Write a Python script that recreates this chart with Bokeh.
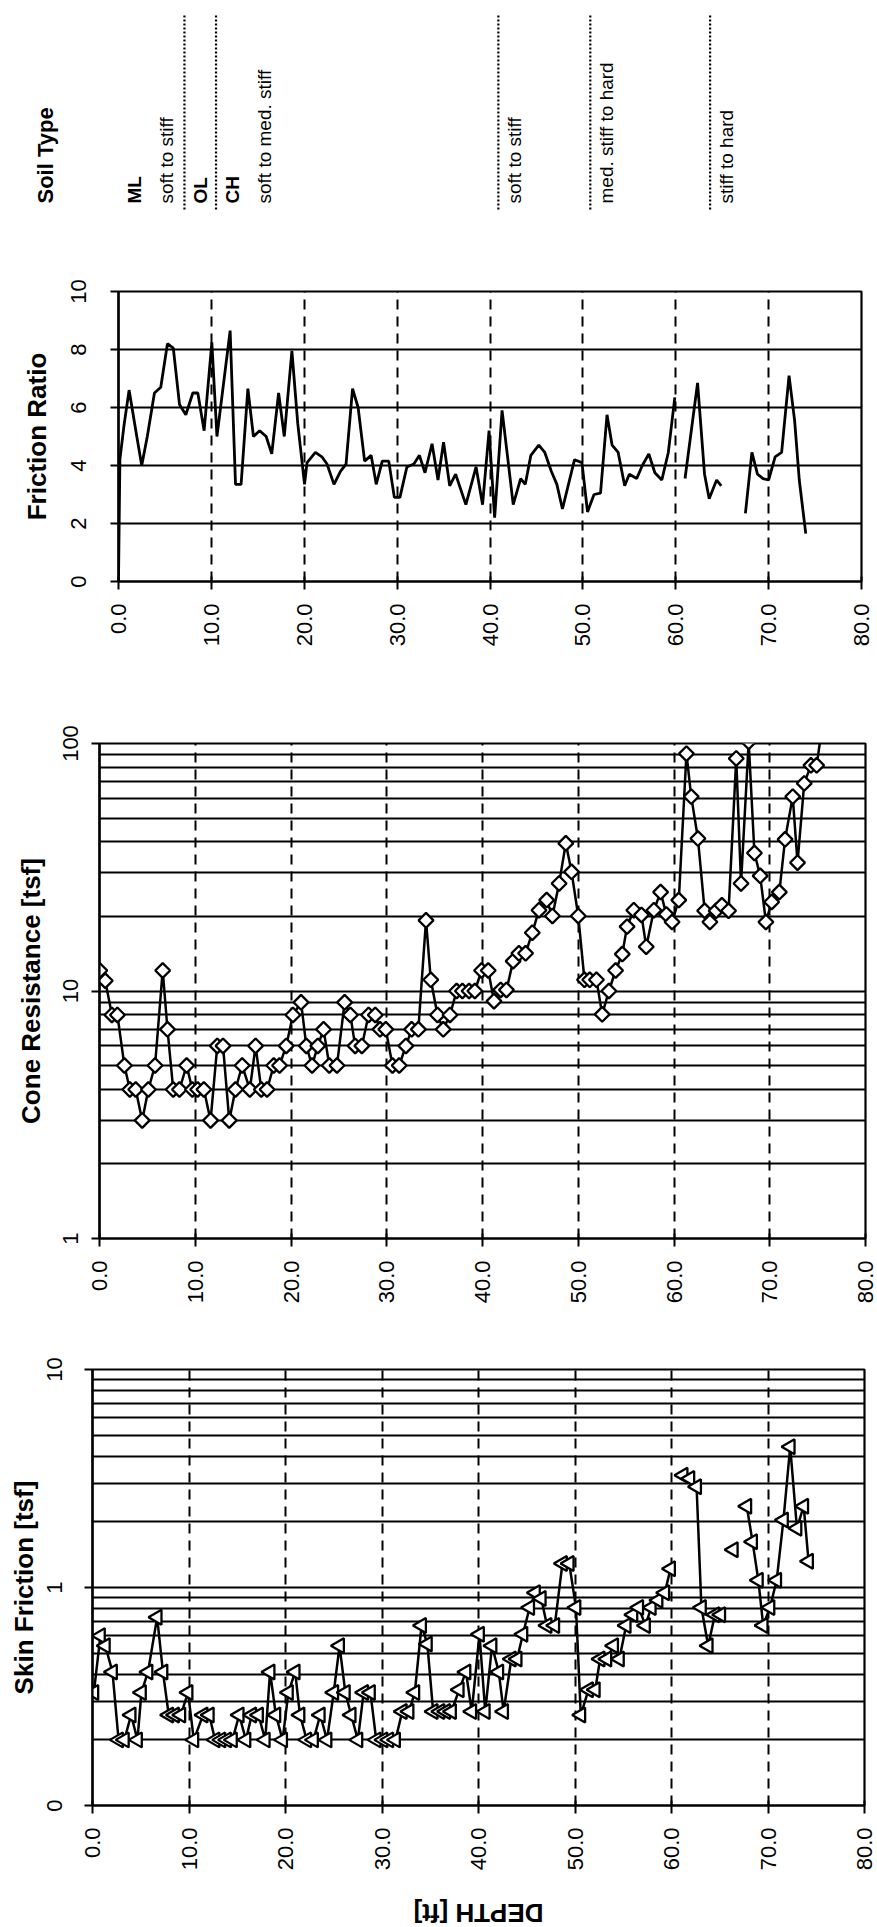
import math
import numpy as np
from bokeh.plotting import figure
from bokeh.layouts import column
from bokeh.models import Range1d, FixedTicker, PrintfTickFormatter, ColumnDataSource
from bokeh.core.properties import value
from bokeh.embed import file_html
from bokeh.resources import INLINE

NAN = float("nan")
FONT = "Liberation Sans"

# ---------------- data ----------------
# Friction ratio [%] against depth [ft]; NaN marks missing readings
fr_depth = [0.0, 0.15, 0.6, 1.14, 1.97, 2.5, 3.1, 3.87, 4.55, 5.27, 5.9, 6.57, 7.25, 8.0, 8.54,
            9.22, 10.05, 10.6, 12.02, 12.6, 13.2, 13.93, 14.53, 15.2, 15.9, 16.5, 17.24, 17.85,
            18.67, 19.3, 20.03, 20.3, 21.2, 21.9, 22.45, 23.2, 23.9, 24.5, 25.2, 25.8, 26.5,
            27.2, 27.75, 28.4, 29.1, 29.7, 30.3, 31.05, 31.8, 32.4, 33.0, 33.76, 34.4, 35.0,
            35.66, 36.3, 37.4, 38.5, 39.2, 39.9, 40.5, 41.3, 42.5, 43.3, 43.8, 44.4, 45.25,
            45.9, 46.6, 47.2, 47.8, 49.1, 49.9, 50.5, 51.2, 51.9, 52.6, 53.15, 53.8, 54.5,
            55.0, 55.8, 56.4, 57.1, 57.75, 58.5, 59.2, 59.9, 60.5, 61.0, 62.35, 63.1, 63.6,
            64.4, 64.9, 66.4, 67.5, 68.2, 68.8, 69.4, 70.0, 70.7, 71.4, 72.2, 72.8, 73.3, 74.0]
fr_value = [0.0, 4.2, 5.4, 6.6, 5.0, 4.0, 5.0, 6.5, 6.7, 8.2, 8.05, 6.1, 5.75, 6.5, 6.5,
            5.2, 8.25, 5.0, 8.65, 3.35, 3.35, 6.65, 5.0, 5.2, 5.0, 4.4, 6.5, 5.0,
            7.95, 5.45, 3.35, 4.1, 4.45, 4.3, 4.05, 3.35, 3.8, 4.05, 6.65, 6.0, 4.15,
            4.35, 3.35, 4.15, 4.15, 2.9, 2.9, 3.95, 4.05, 4.35, 3.75, 4.75, 3.5, 4.8,
            3.3, 3.7, 2.65, 3.95, 2.65, 5.2, 2.2, 5.9, 2.65, 3.55, 3.35, 4.35, 4.7,
            4.45, 3.8, 3.35, 2.5, 4.2, 4.1, 2.4, 3.0, 3.05, 5.75, 4.7, 4.45, 3.3,
            3.7, 3.55, 4.0, 4.4, 3.75, 3.5, 4.45, 6.35, NAN, 3.55, 6.85, 3.7, 2.85,
            3.5, 3.3, NAN, 2.35, 4.45, 3.7, 3.55, 3.5, 4.3, 4.45, 7.1, 5.55, 3.5, 1.65]

# Cone resistance qc [tsf]
cone_depth = [0.03, 0.6, 1.3, 1.87, 2.6, 3.17, 3.78, 4.46, 5.1, 5.8, 6.6, 7.1, 7.7, 8.35, 9.1,
              9.7, 10.25, 10.9, 11.6, 12.3, 12.9, 13.55, 14.2, 14.9, 15.7, 16.3, 16.9, 17.5,
              18.2, 18.8, 19.5, 20.2, 21.05, 21.6, 22.2, 22.8, 23.4, 24.0, 24.8, 25.6, 26.2,
              26.7, 27.4, 28.1, 28.8, 29.3, 29.9, 30.6, 31.3, 32.0, 32.6, 33.3, 34.1, 34.6,
              35.3, 35.9, 36.6, 37.3, 37.9, 38.6, 39.2, 39.9, 40.6, 41.2, 41.9, 42.5, 43.2,
              43.8, 44.5, 45.2, 45.9, 46.7, 47.3, 48.0, 48.7, 49.3, 50.0, 50.65, 51.2, 51.9,
              52.5, 53.2, 53.9, 54.6, 55.1, 55.8, 56.6, 57.1, 57.9, 58.6, 59.2, 59.8, 60.5,
              61.3, 61.8, 62.5, 63.2, 63.75, 64.4, 65.0, 65.7, 66.5, 67.0, 67.8, 68.4, 69.0,
              69.6, 70.2, 71.0, 71.6, 72.4, 72.9, 73.6, 74.3, 74.9, 75.4]
cone_qc = [12.1, 11.0, 8.0, 8.0, 5.0, 4.0, 4.0, 3.0, 4.0, 5.0, 12.1, 7.0, 4.0, 4.0, 5.0,
           4.0, 4.0, 4.0, 3.0, 6.0, 6.0, 3.0, 4.0, 5.0, 4.0, 6.0, 4.0, 4.0,
           5.0, 5.0, 6.0, 8.0, 9.0, 6.0, 5.0, 6.0, 7.0, 5.0, 5.0, 9.0, 8.0,
           6.0, 6.0, 8.0, 8.0, 7.0, 7.0, 5.0, 5.0, 6.0, 7.0, 7.0, 19.3, 11.1,
           8.0, 7.0, 8.0, 10.0, 10.0, 10.0, 10.0, 12.1, 12.1, 9.1, 10.1, 10.1, 13.2,
           14.2, 14.2, 17.2, 21.2, 23.3, 20.1, 27.2, 39.5, 30.3, 20.1, 11.1, 11.1, 11.1,
           8.05, 10.0, 12.1, 14.1, 18.2, 21.2, 20.3, 15.1, 21.2, 25.1, 20.4, 19.0, 23.3,
           91.0, 61.0, 41.3, 21.1, 19.0, 21.1, 22.2, 21.1, 87.0, 27.2, 101.6, 36.1, 29.2,
           19.0, 22.9, 25.1, 41.0, 61.0, 33.0, 69.0, 81.6, 81.6, 112.0]

# Skin friction fs [tsf]
skin_depth = [0.14, 0.82, 1.33, 2.07, 2.7, 3.3, 4.0, 4.66, 5.07, 5.75, 6.7, 7.3, 7.9, 8.5, 9.15,
              9.9, 10.5, 11.46, 12.1, 12.7, 13.3, 13.9, 14.5, 15.2, 15.9, 16.5, 17.2, 17.9,
              18.4, 19.0, 19.7, 20.3, 21.0, 21.5, 22.2, 22.9, 23.6, 24.3, 25.0, 25.6, 26.2,
              26.8, 27.5, 28.1, 28.8, 29.4, 30.1, 30.7, 31.4, 32.1, 32.8, 33.4, 34.1, 34.7,
              35.3, 36.0, 36.6, 37.2, 38.0, 38.7, 39.3, 40.1, 40.7, 41.4, 42.1, 42.6, 43.4,
              44.0, 44.6, 45.3, 45.9, 46.5, 47.1, 47.9, 48.7, 49.4, 50.1, 50.6, 51.4, 52.1,
              52.6, 53.3, 54.0, 54.6, 55.3, 56.0, 56.6, 57.3, 57.9, 58.6, 59.3, 59.9, 60.5,
              61.2, 61.9, 62.6, 63.1, 63.8, 64.5, 65.1, 65.7, 66.4, 67.1, 67.8, 68.4, 69.0,
              69.5, 70.2, 70.9, 71.6, 72.3, 73.0, 73.7, 74.2]
skin_fs = [0.33, 0.60, 0.54, 0.41, 0.20, 0.20, 0.26, 0.20, 0.33, 0.41, 0.73, 0.41, 0.26, 0.26, 0.26,
           0.33, 0.20, 0.26, 0.26, 0.20, 0.20, 0.20, 0.20, 0.26, 0.20, 0.26, 0.26, 0.20,
           0.41, 0.26, 0.20, 0.33, 0.41, 0.26, 0.20, 0.20, 0.26, 0.20, 0.33, 0.54, 0.33,
           0.26, 0.20, 0.33, 0.33, 0.20, 0.20, 0.20, 0.20, 0.27, 0.27, 0.33, 0.67, 0.55,
           0.27, 0.27, 0.27, 0.27, 0.34, 0.41, 0.27, 0.61, 0.27, 0.54, 0.41, 0.27, 0.47,
           0.47, 0.61, 0.81, 0.945, 0.89, 0.67, 0.67, 1.29, 1.29, 0.81, 0.26, 0.34, 0.34,
           0.47, 0.47, 0.54, 0.47, 0.67, 0.75, 0.81, 0.67, 0.81, 0.875, 0.945, 1.22, NAN,
           3.27, 3.16, 2.9, 0.81, 0.54, 0.75, 0.75, NAN, 1.49, NAN, 2.36, 1.62, 1.08,
           0.67, 0.81, 1.08, 2.04, 4.42, 1.87, 2.36, 1.32]

# Soil layers: top depth [ft], group symbol, consistency
soil_tops = [0.0, 7.1, 10.5, 40.9, 50.8, 63.7]
soil_symbols = ["ML", "OL", "CH", "", "", ""]
soil_descriptions = ["soft to stiff", "", "soft to med. stiff", "soft to stiff",
                     "med. stiff to hard", "stiff to hard"]

# Axis ticks
depth_ticks = [0, 10, 20, 30, 40, 50, 60, 70, 80]
fr_ticks = [0, 2, 4, 6, 8, 10]
cone_ticks = [1, 10, 100]
cone_minor = [2, 3, 4, 5, 6, 7, 8, 9, 20, 30, 40, 50, 60, 70, 80, 90]
skin_ticks = [0.1, 1, 10]
skin_minor = [0.2, 0.3, 0.4, 0.5, 0.6, 0.7, 0.8, 0.9, 2, 3, 4, 5, 6, 7, 8, 9]

PAGE_W = 877
GRID_W = 2.0


def make_fig(height, left, right, top, bottom, **kw):
    p = figure(width=PAGE_W, height=height, output_backend="svg", toolbar_location=None,
               min_border_left=left, min_border_right=right,
               min_border_top=top, min_border_bottom=bottom, **kw)
    p.frame_align = False
    p.background_fill_color = "white"
    p.border_fill_color = "white"
    return p


def style_panel(p, ylabel, yticks, yminor, label_standoff, axis_label_standoff):
    p.outline_line_color = "black"
    p.outline_line_width = 2.2
    # depth axis
    xt = FixedTicker(ticks=depth_ticks)
    p.xaxis.ticker = xt
    p.xgrid.ticker = xt
    p.xaxis.formatter = PrintfTickFormatter(format="%.1f")
    p.xaxis.major_label_orientation = math.pi / 2
    p.xaxis.major_label_text_font = FONT
    p.xaxis.major_label_text_font_size = "22px"
    p.xaxis.major_label_text_color = "black"
    p.xaxis.major_label_standoff = 14
    p.xaxis.major_tick_out = 8
    p.xaxis.major_tick_in = 5
    p.xaxis.major_tick_line_width = 2
    p.xaxis.minor_tick_line_color = None
    p.xaxis.axis_line_width = 2.2
    p.xgrid.grid_line_color = "black"
    p.xgrid.grid_line_width = GRID_W
    p.xgrid.grid_line_dash = "10 7"
    # value axis
    yt = FixedTicker(ticks=yticks, minor_ticks=yminor)
    p.yaxis.ticker = yt
    p.ygrid.ticker = yt
    p.yaxis.formatter = PrintfTickFormatter(format="%.0f")
    p.yaxis.major_label_orientation = "vertical"
    p.yaxis.major_label_text_font = FONT
    p.yaxis.major_label_text_font_size = "22px"
    p.yaxis.major_label_text_color = "black"
    p.yaxis.major_label_standoff = label_standoff
    p.yaxis.major_tick_out = 8
    p.yaxis.major_tick_in = 0
    p.yaxis.major_tick_line_width = 2
    p.yaxis.minor_tick_line_color = None
    p.yaxis.axis_line_width = 2.2
    p.yaxis.axis_label = ylabel
    p.yaxis.axis_label_text_font = FONT
    p.yaxis.axis_label_text_font_style = "bold"
    p.yaxis.axis_label_text_font_size = "26px"
    p.yaxis.axis_label_text_color = "black"
    p.yaxis.axis_label_standoff = axis_label_standoff
    p.ygrid.grid_line_color = "black"
    p.ygrid.grid_line_width = GRID_W
    if yminor:
        p.ygrid.minor_grid_line_color = "black"
        p.ygrid.minor_grid_line_width = GRID_W


# ---------------- soil type strip ----------------
SOIL_H = 255
TEXT_Y = 52          # start of the rotated soil texts, px above the strip bottom
FR_LEFT, FR_RIGHT = 118, 16
px_per_ft = (PAGE_W - FR_LEFT - FR_RIGHT) / 80.0
soil = make_fig(SOIL_H, 0, 0, 0, 0,
                x_range=Range1d(-FR_LEFT / px_per_ft, 80 + FR_RIGHT / px_per_ft),
                y_range=Range1d(0, SOIL_H), x_axis_location=None, y_axis_location=None)
soil.outline_line_color = None
soil.grid.visible = False

bounds = soil_tops[1:]
soil.segment(x0=bounds, y0=[TEXT_Y - 6] * len(bounds), x1=bounds, y1=[241] * len(bounds),
             line_color="black", line_width=2.2, line_dash="2 2")

sym_x, sym_t, sym_off = [], [], []
desc_x, desc_t, desc_off = [], [], []
for top, sym, desc in zip(soil_tops, soil_symbols, soil_descriptions):
    k = 0
    if sym:
        sym_x.append(top); sym_t.append(sym); sym_off.append(16 + 32 * k)
        k += 1
    if desc:
        desc_x.append(top); desc_t.append(desc); desc_off.append(16 + 32 * k)

text_kw = dict(angle=math.pi / 2, text_align="left", text_baseline="middle",
               text_font=value(FONT), text_color="black", text_font_size="19px")
soil.text(x="x", y="y", text="t", x_offset="o",
          source=ColumnDataSource(dict(x=sym_x, y=[TEXT_Y] * len(sym_x), t=sym_t, o=sym_off)),
          text_font_style="bold", **text_kw)
soil.text(x="x", y="y", text="t", x_offset="o",
          source=ColumnDataSource(dict(x=desc_x, y=[TEXT_Y] * len(desc_x), t=desc_t, o=desc_off)),
          **text_kw)
soil.text(x=[0], y=[TEXT_Y], text=["Soil Type"], x_offset=-73, angle=math.pi / 2,
          text_align="left", text_baseline="middle", text_font=value(FONT),
          text_font_style="bold", text_font_size="22px", text_color="black")

# ---------------- friction ratio ----------------
fr = make_fig(445, FR_LEFT, FR_RIGHT, 36, 119,
              x_range=Range1d(0, 80), y_range=Range1d(0, 10))
style_panel(fr, "Friction Ratio", fr_ticks, [], 25, 16)
fr.line(x=np.array(fr_depth), y=np.array(fr_value), line_color="black", line_width=2.8)

# ---------------- cone resistance ----------------
cone = make_fig(620, 99, 12, 43, 82, x_range=Range1d(0, 80), y_range=Range1d(1, 100),
                y_axis_type="log")
style_panel(cone, "Cone Resistance [tsf]", cone_ticks, cone_minor, 14, 14)
cone_src = ColumnDataSource(dict(d=cone_depth, q=cone_qc))
cone.line(x="d", y="q", source=cone_src, line_color="black", line_width=2.5)
cone.scatter(x="d", y="q", source=cone_src, marker="square", angle=math.pi / 4, size=10.5,
             fill_color="white", line_color="black", line_width=2.3)

# ---------------- skin friction ----------------
skin = make_fig(560, 92, 13, 49, 75, x_range=Range1d(0, 80), y_range=Range1d(0.1, 10),
                y_axis_type="log")
style_panel(skin, "Skin Friction [tsf]", skin_ticks, skin_minor, 23, 5)
skin_src = ColumnDataSource(dict(d=np.array(skin_depth), f=np.array(skin_fs)))
skin.line(x="d", y="f", source=skin_src, line_color="black", line_width=2.5)
skin.scatter(x="d", y="f", source=skin_src, marker="triangle", angle=math.pi / 2, size=15,
             fill_color="white", line_color="black", line_width=2.3)

# ---------------- depth caption ----------------
cap = make_fig(47, 92, 13, 0, 0, x_range=Range1d(0, 80), y_range=Range1d(0, 47),
               x_axis_location=None, y_axis_location=None)
cap.outline_line_color = None
cap.grid.visible = False
cap.text(x=[40], y=[15], text=["DEPTH [ft]"], angle=math.pi, text_align="center",
         text_baseline="middle", text_font=value(FONT), text_font_style="bold",
         text_font_size="26px", text_color="black")

layout = column(soil, fr, cone, skin, cap, spacing=0)
open("out.html", "w").write(file_html(layout, INLINE))
